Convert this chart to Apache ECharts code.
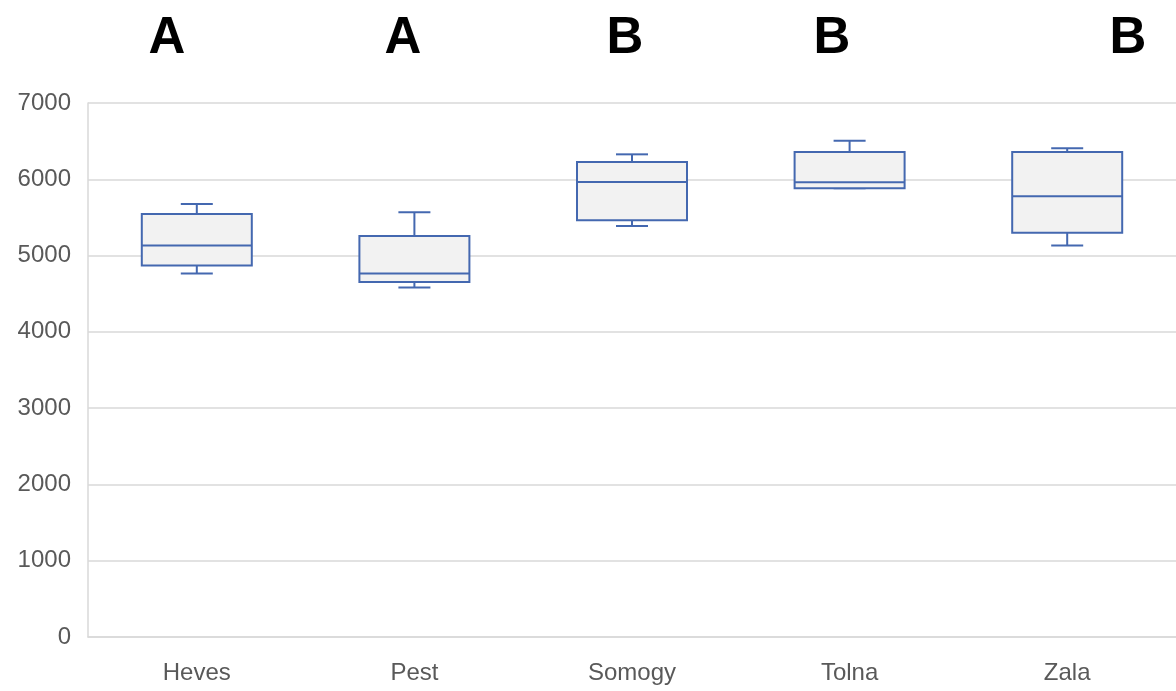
<!DOCTYPE html>
<html>
<head>
<meta charset="utf-8">
<script src="https://cdn.jsdelivr.net/npm/echarts@6/dist/echarts.min.js"></script>
<style>html,body{margin:0;padding:0;background:#fff;}#c{width:1176px;height:691px;}</style>
</head>
<body>
<div id="c"></div>
<script>
const categories = ['Heves', 'Pest', 'Somogy', 'Tolna', 'Zala'];
const whiskerMin = [4764, 4580, 5388, 5882, 5131];
const q1 = [4869, 4654, 5462, 5882, 5300];
const median = [5131, 4764, 5965, 5961, 5777];
const q3 = [5545, 5257, 6227, 6358, 6358];
const whiskerMax = [5676, 5567, 6327, 6506, 6406];
const groupLetters = ['A', 'A', 'B', 'B', 'B'];
const letterX = [167, 403, 625, 832, 1128];
const yTicks = [0, 1000, 2000, 3000, 4000, 5000, 6000, 7000];

const data = categories.map((c, i) => [i, whiskerMin[i], q1[i], median[i], q3[i], whiskerMax[i]]);
const BOX_W = 110, CAP_W = 32;
const stroke = '#4468b0';

const chart = echarts.init(document.getElementById('c'), null, {renderer: 'canvas'});
chart.setOption({
  animation: false,
  backgroundColor: '#ffffff',
  grid: {left: 88, right: 0, top: 103, bottom: 54, containLabel: false},
  xAxis: {
    type: 'category', data: categories,
    axisLine: {show: true, lineStyle: {color: '#d9d9d9', width: 1.5}},
    axisTick: {show: false},
    axisLabel: {color: '#595959', fontSize: 24, fontFamily: '"Liberation Sans", Arial, sans-serif', margin: 24}
  },
  yAxis: {
    type: 'value', min: yTicks[0], max: yTicks[yTicks.length - 1], interval: 1000,
    axisLine: {show: true, lineStyle: {color: '#d9d9d9', width: 1.5}},
    axisTick: {show: false},
    splitLine: {lineStyle: {color: '#d9d9d9', width: 1.5}},
    axisLabel: {color: '#595959', fontSize: 24, fontFamily: '"Liberation Sans", Arial, sans-serif', margin: 17,
      formatter: v => String(v), padding: [8, 0, 0, 0]}
  },
  graphic: groupLetters.map((t, i) => ({
    type: 'text', x: letterX[i], y: 13,
    style: {text: t, font: 'bold 51px "Liberation Sans", Arial, sans-serif', fill: '#000', textAlign: 'center', textVerticalAlign: 'top'}
  })),
  series: [{
    type: 'custom',
    data: data,
    encode: {x: 0, y: [1, 2, 3, 4, 5]},
    renderItem: function (params, api) {
      const i = api.value(0);
      const pMin = api.coord([i, api.value(1)]);
      const pQ1 = api.coord([i, api.value(2)]);
      const pMed = api.coord([i, api.value(3)]);
      const pQ3 = api.coord([i, api.value(4)]);
      const pMax = api.coord([i, api.value(5)]);
      const x = pMin[0];
      const ls = {stroke: stroke, lineWidth: 2};
      const children = [
        {type: 'line', shape: {x1: x, y1: pQ3[1], x2: x, y2: pMax[1]}, style: ls},
        {type: 'line', shape: {x1: x, y1: pQ1[1], x2: x, y2: pMin[1]}, style: ls},
        {type: 'line', shape: {x1: x - CAP_W / 2, y1: pMax[1], x2: x + CAP_W / 2, y2: pMax[1]}, style: ls},
        {type: 'line', shape: {x1: x - CAP_W / 2, y1: pMin[1], x2: x + CAP_W / 2, y2: pMin[1]}, style: ls},
        {type: 'rect', shape: {x: x - BOX_W / 2, y: pQ3[1], width: BOX_W, height: pQ1[1] - pQ3[1]}, style: {fill: '#f2f2f2', stroke: stroke, lineWidth: 2}},
        {type: 'line', shape: {x1: x - BOX_W / 2, y1: pMed[1], x2: x + BOX_W / 2, y2: pMed[1]}, style: ls}
      ];
      return {type: 'group', children: children};
    }
  }]
});
</script>
</body>
</html>
